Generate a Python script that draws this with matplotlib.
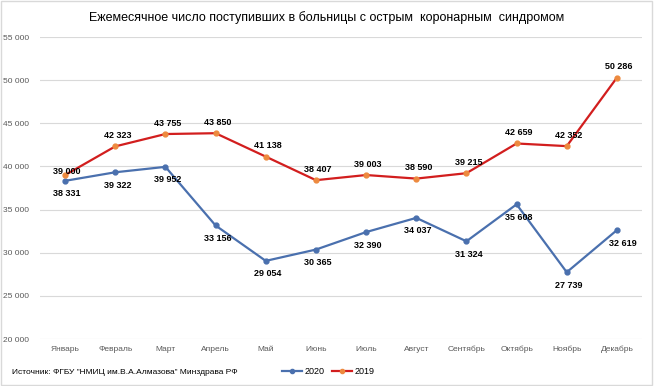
import numpy as np
import matplotlib.pyplot as plt
from matplotlib.lines import Line2D
from matplotlib.patches import Rectangle

# Данные
meses = ['Январь', 'Февраль', 'Март', 'Апрель', 'Май', 'Июнь', 'Июль',
         'Август', 'Сентябрь', 'Октябрь', 'Ноябрь', 'Декабрь']
v2020 = [38331, 39322, 39952, 33156, 29054, 30365, 32390, 34037, 31324, 35608, 27739, 32619]
v2019 = [39000, 42323, 43755, 43850, 41138, 38407, 39003, 38590, 39215, 42659, 42352, 50286]
yticks = list(range(20000, 55001, 5000))

def fmt(v):
    return f'{v:,}'.replace(',', ' ')

plt.rcParams['font.family'] = ['Liberation Sans', 'DejaVu Sans']

fig = plt.figure(figsize=(6.54, 3.86), dpi=100)
ax = fig.add_axes([40/654, 1 - 339/386, 602/654, 302/386])

x = np.arange(len(meses))
azul = '#4A70AE'
rojo = '#D21E1E'
naranja = '#ED8A3F'

ax.plot(x, v2020, color=azul, lw=1.6, marker='o', ms=3.5, mfc=azul, mec=azul, zorder=3)
ax.plot(x, v2019, color=rojo, lw=1.6, marker='o', ms=3.5, mfc=naranja, mec=naranja, zorder=3)

# Etiquetas de datos
for i, v in enumerate(v2020):
    dx = 6 if i == 11 else 2
    ax.annotate(fmt(v), (i, v), xytext=(dx, -13), textcoords='offset pixels',
                ha='center', va='center', fontsize=6.5, fontweight='bold', zorder=4)
for i, v in enumerate(v2019):
    dy = 4 if i == 0 else 11
    ax.annotate(fmt(v), (i, v), xytext=(2, dy), textcoords='offset pixels',
                ha='center', va='center', fontsize=6.5, fontweight='bold', zorder=4)

ax.set_xlim(-0.5, len(meses) - 0.5)
ax.set_ylim(20000, 55000)
ax.set_yticks(yticks)
ax.set_yticklabels([fmt(t) for t in yticks])
ax.set_xticks(x)
ax.set_xticklabels(meses)
ax.grid(axis='y', color='#D9D9D9', lw=0.8)
ax.set_axisbelow(True)
for s in ax.spines.values():
    s.set_visible(False)
ax.tick_params(length=0, labelsize=6, colors='#595959', pad=5)
ax.tick_params(axis='y', pad=8)

fig.text(0.5, 1 - 18/386, 'Ежемесячное число поступивших в больницы с острым  коронарным  синдромом',
         ha='center', va='center', fontsize=9)
fig.text(12/654, 1 - 372/386, 'Источник: ФГБУ "НМИЦ им.В.А.Алмазова" Минздрава РФ',
         ha='left', va='center', fontsize=6)

handles = [Line2D([], [], color=azul, lw=1.6, marker='o', ms=3, mfc=azul, mec=azul),
           Line2D([], [], color=rojo, lw=1.6, marker='o', ms=3, mfc=naranja, mec=naranja)]
fig.legend(handles, ['2020', '2019'], loc='center left', bbox_to_anchor=(282/654, 1 - 372/386),
           ncol=2, frameon=False, fontsize=6.5, handlelength=2.2, handletextpad=0.3,
           columnspacing=0.8, borderaxespad=0, borderpad=0)

fig.patches.append(Rectangle((0.002, 0.003), 0.995, 0.994, transform=fig.transFigure,
                             fill=False, edgecolor='#D9D9D9', lw=1))

fig.savefig('out.png', dpi=100)
